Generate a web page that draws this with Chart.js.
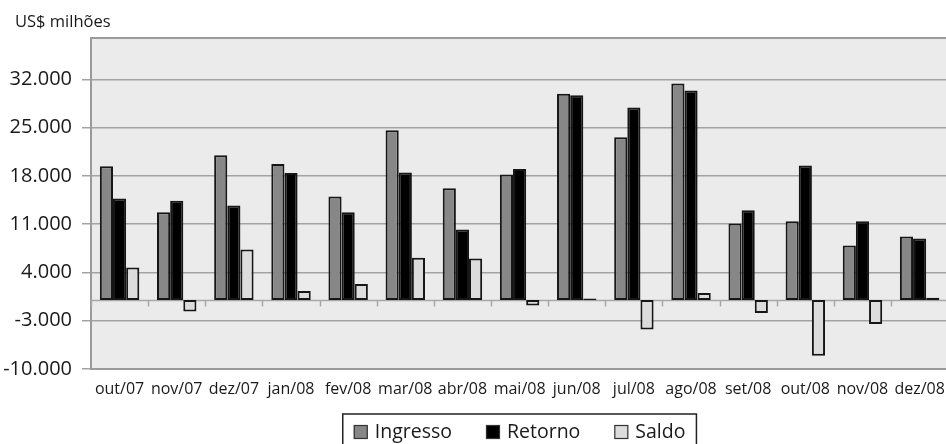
<!DOCTYPE html>
<html lang="pt-BR">
<head>
<meta charset="utf-8">
<title>Ingresso e retorno de capitais</title>
<script src="https://cdn.jsdelivr.net/npm/chart.js@4/dist/chart.umd.min.js"></script>
<style>
  html, body { margin: 0; padding: 0; background: #ffffff; overflow: hidden; }
  #wrap { width: 956px; height: 444px; }
</style>
</head>
<body>
<div id="wrap"><canvas id="chart" width="956" height="444"></canvas></div>
<script>
// Monthly flows, US$ millions
const months = ['out/07', 'nov/07', 'dez/07', 'jan/08', 'fev/08', 'mar/08', 'abr/08', 'mai/08',
                'jun/08', 'jul/08', 'ago/08', 'set/08', 'out/08', 'nov/08', 'dez/08'];
const ingresso = [19400, 12700, 21000, 19700, 15000, 24600, 16200, 18200, 29900, 23600, 31400, 11100, 11400, 7900, 9200];
const retorno  = [14700, 14400, 13700, 18400, 12700, 18500, 10200, 19000, 29700, 27900, 30400, 13000, 19500, 11400, 8900];
const saldo    = [4700, -1700, 7300, 1300, 2300, 6100, 6000, -800, 200, -4300, 1000, -1900, -8100, -3500, 300];
const yTicks   = [-10000, -3000, 4000, 11000, 18000, 25000, 32000];
const yMin = -10000;
const yMax = 38000;
const unitText = 'US$ milhões';

const FONT = '"Open Sans", "Noto Sans", sans-serif';
const INK = '#1a1a1a';

// thousands separator with a dot
function fmt(v) {
  const s = Math.abs(v).toString().replace(/\B(?=(\d{3})+(?!\d))/g, '.');
  return (v < 0 ? '-' : '') + s;
}

// grey plot background, top edge of the frame, zero line with category ticks
const plotFrame = {
  id: 'plotFrame',
  beforeDraw(chart) {
    const { ctx, chartArea: a } = chart;
    ctx.save();
    ctx.fillStyle = '#ebebeb';
    ctx.fillRect(a.left, a.top, a.right - a.left, a.bottom - a.top);
    ctx.restore();
  },
  beforeDatasetsDraw(chart) {
    const { ctx, chartArea: a, scales } = chart;
    ctx.save();
    ctx.strokeStyle = '#9a9a9a';
    ctx.lineWidth = 2;
    ctx.beginPath();
    ctx.moveTo(a.left - 1, a.top);
    ctx.lineTo(a.right, a.top);
    ctx.stroke();

    // zero line
    const y0 = Math.round(scales.y.getPixelForValue(0)) + 0.5;
    ctx.strokeStyle = '#a8a8a8';
    ctx.lineWidth = 1.5;
    ctx.beginPath();
    ctx.moveTo(a.left, y0);
    ctx.lineTo(a.right, y0);
    // tick marks on the boundaries between months
    const n = chart.data.labels.length;
    for (let i = 0; i <= n; i++) {
      let bx;
      if (i === 0) bx = a.left;
      else if (i === n) bx = a.right;
      else bx = (scales.x.getPixelForValue(i - 1) + scales.x.getPixelForValue(i)) / 2;
      bx = Math.round(bx) + 0.5;
      ctx.moveTo(bx, y0);
      ctx.lineTo(bx, y0 + 6);
    }
    ctx.stroke();
    ctx.restore();
  }
};

// unit caption above the value axis
const unitCaption = {
  id: 'unitCaption',
  afterDraw(chart) {
    const { ctx } = chart;
    ctx.save();
    ctx.font = '16.5px ' + FONT;
    ctx.fillStyle = INK;
    ctx.textAlign = 'left';
    ctx.textBaseline = 'alphabetic';
    ctx.fillText(unitText, 15, 27);
    ctx.restore();
  }
};

// boxed legend row under the category labels
const boxedLegend = {
  id: 'boxedLegend',
  afterDraw(chart) {
    const { ctx, chartArea: a } = chart;
    const sets = chart.data.datasets;
    const size = 19.5, sq = 14, gap = 7, spacing = 34;
    ctx.save();
    ctx.font = size + 'px ' + FONT;
    const widths = sets.map(d => sq + gap + ctx.measureText(d.label).width);
    const total = widths.reduce((s, w) => s + w, 0) + spacing * (sets.length - 1);
    let x = (a.left + a.right) / 2 - total / 2;
    const top = 414;
    ctx.strokeStyle = '#222222';
    ctx.lineWidth = 1.5;
    ctx.strokeRect(x - 11, top, total + 22, 60);
    const sqTop = 425;
    sets.forEach((d, i) => {
      ctx.fillStyle = d.backgroundColor;
      ctx.fillRect(x, sqTop, sq, sq);
      ctx.strokeStyle = '#333333';
      ctx.lineWidth = 1.2;
      ctx.strokeRect(x + 0.5, sqTop + 0.5, sq - 1, sq - 1);
      ctx.fillStyle = INK;
      ctx.textBaseline = 'alphabetic';
      ctx.textAlign = 'left';
      ctx.fillText(d.label, x + sq + gap, 437.5);
      x += widths[i] + spacing;
    });
    ctx.restore();
  }
};

const barStyle = {
  borderColor: '#161616',
  borderWidth: 2,
  borderSkipped: false,
  barPercentage: 1.0,
  categoryPercentage: 0.69
};

new Chart(document.getElementById('chart'), {
  type: 'bar',
  data: {
    labels: months,
    datasets: [
      Object.assign({ label: 'Ingresso', data: ingresso, backgroundColor: '#878787' }, barStyle),
      Object.assign({ label: 'Retorno',  data: retorno,  backgroundColor: '#000000' }, barStyle),
      Object.assign({ label: 'Saldo',    data: saldo,    backgroundColor: '#dcdcdc' }, barStyle)
    ]
  },
  options: {
    responsive: false,
    animation: false,
    devicePixelRatio: 1,
    layout: { padding: { left: 0, right: 5, top: 38, bottom: 34 } },
    plugins: {
      legend: { display: false },
      tooltip: { enabled: false },
      title: { display: false }
    },
    scales: {
      x: {
        offset: true,
        grid: { display: false, drawTicks: false },
        border: { display: true, color: '#9a9a9a', width: 2 },
        ticks: { color: INK, font: { family: FONT, size: 16 }, padding: 11, maxRotation: 0, autoSkip: false }
      },
      y: {
        min: yMin,
        max: yMax,
        afterBuildTicks(scale) { scale.ticks = yTicks.map(v => ({ value: v })); },
        afterFit(scale) { scale.width = 91; },
        grid: { color: '#a3a3a3', lineWidth: 1.5, tickLength: 9, drawTicks: true },
        border: { display: true, color: '#9a9a9a', width: 2 },
        ticks: { color: INK, font: { family: FONT, size: 20 }, padding: 10, callback: v => fmt(v) }
      }
    }
  },
  plugins: [plotFrame, unitCaption, boxedLegend]
});
</script>
</body>
</html>
